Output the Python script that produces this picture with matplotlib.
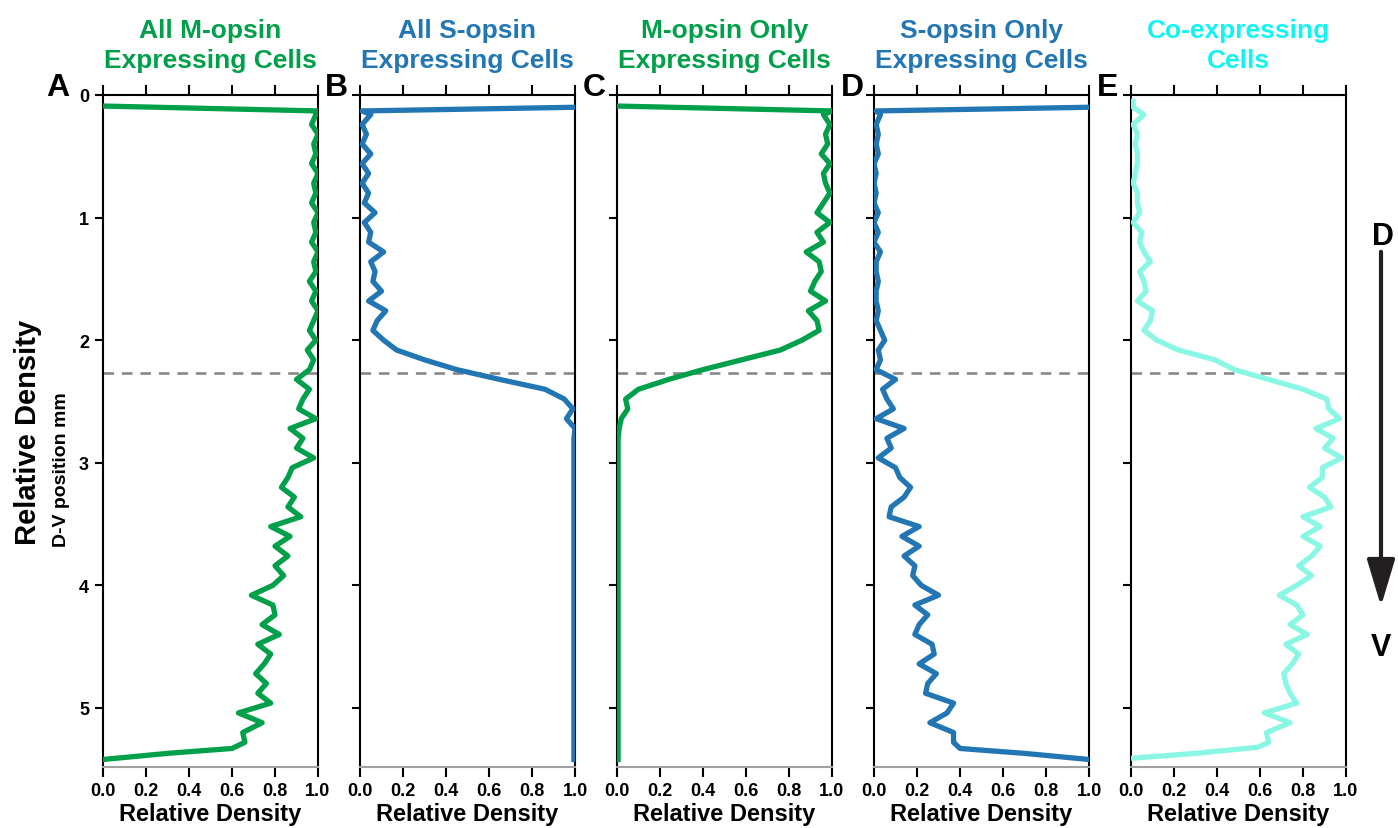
import numpy as np
import matplotlib
matplotlib.use("Agg")
import matplotlib.pyplot as plt
from matplotlib.patches import FancyArrowPatch, ArrowStyle

plt.rcParams['font.family'] = ['Liberation Sans', 'DejaVu Sans']
plt.rcParams['font.weight'] = 'bold'

# D-V position (mm) of the density bins
depth = [0.16, 0.24, 0.32, 0.40, 0.48, 0.56, 0.64, 0.72, 0.80, 0.88,
         0.96, 1.04, 1.12, 1.20, 1.28, 1.36, 1.44, 1.52, 1.60, 1.68,
         1.76, 1.84, 1.92, 2.00, 2.08, 2.16, 2.24, 2.32, 2.40, 2.48,
         2.56, 2.64, 2.72, 2.80, 2.88, 2.96, 3.04, 3.12, 3.20, 3.28,
         3.36, 3.44, 3.52, 3.60, 3.68, 3.76, 3.84, 3.92, 4.00, 4.08,
         4.16, 4.24, 4.32, 4.40, 4.48, 4.56, 4.64, 4.72, 4.80, 4.88,
         4.96, 5.04, 5.12, 5.20, 5.28]

all_m = [0.99, 0.97, 1.00, 0.98, 0.99, 0.97, 1.00, 0.98, 0.99, 0.97,
         1.00, 0.98, 0.99, 0.97, 1.00, 0.98, 0.99, 0.96, 0.99, 0.97,
         1.00, 0.98, 0.96, 0.99, 0.95, 0.98, 0.96, 0.90, 0.96, 0.93,
         0.91, 0.99, 0.87, 0.93, 0.90, 0.98, 0.88, 0.86, 0.83, 0.89,
         0.86, 0.92, 0.78, 0.87, 0.80, 0.86, 0.80, 0.84, 0.79, 0.69,
         0.79, 0.80, 0.74, 0.82, 0.72, 0.78, 0.75, 0.71, 0.76, 0.72,
         0.78, 0.63, 0.74, 0.65, 0.66]

all_s = [0.05, 0.01, 0.03, 0.01, 0.05, 0.01, 0.04, 0.01, 0.04, 0.02,
         0.07, 0.02, 0.05, 0.04, 0.11, 0.05, 0.07, 0.06, 0.10, 0.04,
         0.12, 0.08, 0.06, 0.11, 0.17, 0.30, 0.45, 0.65, 0.86, 0.95,
         0.99, 0.96, 1.00, 0.995, 0.995, 0.995, 0.995, 0.995, 0.995, 0.995,
         0.995, 0.995, 0.995, 0.995, 0.995, 0.995, 0.995, 0.995, 0.995, 0.995,
         0.995, 0.995, 0.995, 0.995, 0.995, 0.995, 0.995, 0.995, 0.995, 0.995,
         0.995, 0.995, 0.995, 0.995, 0.995]

m_only = [0.96, 0.99, 0.97, 0.98, 0.95, 0.99, 0.96, 0.97, 0.99, 0.96,
          0.93, 0.99, 0.93, 0.96, 0.88, 0.94, 0.95, 0.92, 0.90, 0.97,
          0.89, 0.93, 0.94, 0.86, 0.76, 0.58, 0.40, 0.24, 0.10, 0.04,
          0.05, 0.02, 0.01, 0.005, 0.005, 0.005, 0.005, 0.005, 0.005, 0.005,
          0.005, 0.005, 0.005, 0.005, 0.005, 0.005, 0.005, 0.005, 0.005, 0.005,
          0.005, 0.005, 0.005, 0.005, 0.005, 0.005, 0.005, 0.005, 0.005, 0.005,
          0.005, 0.005, 0.005, 0.005, 0.005]

s_only = [0.03, 0.01, 0.02, 0.01, 0.02, 0.00, 0.01, 0.00, 0.01, 0.00,
          0.02, 0.00, 0.02, 0.00, 0.03, 0.01, 0.01, 0.02, 0.01, 0.01,
          0.02, 0.01, 0.03, 0.05, 0.02, 0.03, 0.01, 0.10, 0.04, 0.06,
          0.09, 0.01, 0.14, 0.06, 0.08, 0.02, 0.10, 0.12, 0.17, 0.14,
          0.08, 0.07, 0.21, 0.13, 0.21, 0.14, 0.19, 0.18, 0.22, 0.30,
          0.19, 0.25, 0.21, 0.19, 0.27, 0.28, 0.21, 0.29, 0.25, 0.24,
          0.37, 0.34, 0.26, 0.37, 0.37]

co_exp = [0.06, 0.01, 0.03, 0.02, 0.03, 0.03, 0.02, 0.01, 0.03, 0.03,
          0.04, 0.01, 0.05, 0.04, 0.06, 0.09, 0.04, 0.06, 0.07, 0.03,
          0.10, 0.09, 0.06, 0.12, 0.22, 0.39, 0.48, 0.64, 0.80, 0.91,
          0.92, 0.97, 0.86, 0.94, 0.90, 0.98, 0.89, 0.89, 0.83, 0.90,
          0.93, 0.80, 0.88, 0.80, 0.88, 0.84, 0.78, 0.84, 0.77, 0.69,
          0.77, 0.80, 0.74, 0.82, 0.72, 0.78, 0.75, 0.71, 0.72, 0.74,
          0.77, 0.62, 0.74, 0.63, 0.64]

# end bins (top edge / bottom edge of the retina)
top_depth = [[0.09, 0.13], [0.10, 0.13], [0.09, 0.13], [0.10, 0.13], [0.05, 0.10]]
top_vals = [[0.0, 1.0], [1.0, 0.01], [0.0, 1.0], [1.0, 0.01], [0.01, 0.01]]
bot_depth = [[5.33, 5.37, 5.42], [5.42], [5.42], [5.33, 5.37, 5.42], [5.32, 5.37, 5.41]]
bot_vals = [[0.60, 0.30, 0.0], [0.995], [0.005], [0.40, 0.70, 1.0], [0.59, 0.30, 0.0]]

series = [all_m, all_s, m_only, s_only, co_exp]
titles = ["All M-opsin\nExpressing Cells", "All S-opsin\nExpressing Cells",
          "M-opsin Only\nExpressing Cells", "S-opsin Only\nExpressing Cells",
          "Co-expressing\nCells"]
letters = ["A", "B", "C", "D", "E"]
boundary = 2.27

green = "#00A04A"
blue = "#2176B3"
line_cols = [green, blue, green, blue, "#8AF7E4"]
title_cols = [green, blue, green, blue, "#12F4F4"]

W, H = 1398, 829
fig = plt.figure(figsize=(W / 100, H / 100), dpi=100)

lefts = [103, 360, 617, 874, 1131]
pw = 215
top_px, bot_px = 96, 768
ymax = (bot_px - top_px) / 122.6

for i in range(5):
    ax = fig.add_axes([lefts[i] / W, 1 - bot_px / H, pw / W, (bot_px - top_px) / H])
    y = top_depth[i] + depth + bot_depth[i]
    x = top_vals[i] + series[i] + bot_vals[i]
    ax.plot(x, y, color=line_cols[i], lw=3.8, solid_joinstyle='round', zorder=3)
    ax.axhline(boundary, color="#888888", lw=1.9, ls=(0, (4, 3)), zorder=2)
    ax.set_xlim(0, 1)
    ax.set_ylim(ymax, 0)
    ax.set_xticks([0, 0.2, 0.4, 0.6, 0.8, 1.0])
    ax.set_xticklabels(["0.0", "0.2", "0.4", "0.6", "0.8", "1.0"])
    ax.set_yticks([0, 1, 2, 3, 4, 5])
    ax.tick_params(axis='x', which='both', top=True, bottom=True, direction='out',
                   length=7, width=1.5, labelsize=13, pad=4, color='black')
    ax.tick_params(axis='y', left=True, right=False, direction='out',
                   length=6, width=1.5, labelsize=13, pad=4)
    if i > 0:
        ax.set_yticklabels([])
    for lab in ax.get_xticklabels() + ax.get_yticklabels():
        lab.set_fontweight('bold')
    for s in ['left', 'right', 'top']:
        ax.spines[s].set_linewidth(1.5)
        ax.spines[s].set_color('black')
    ax.spines['bottom'].set_color('#A0A0A0')
    ax.spines['bottom'].set_linewidth(1.5)
    ax.set_xlabel("Relative Density", fontsize=17, fontweight='bold', labelpad=2)

    cx = (lefts[i] + pw / 2) / W
    fig.text(cx, 1 - 46 / H, titles[i], ha='center', va='center', fontsize=19,
             fontweight='bold', color=title_cols[i], linespacing=1.35)

letter_x = [58, 336, 594, 852, 1108]
for lx, l in zip(letter_x, letters):
    fig.text(lx / W, 1 - 88 / H, l, ha='center', va='center', fontsize=23, fontweight='bold')

fig.text(28 / W, 1 - 432 / H, "Relative Density", rotation=90, ha='center', va='center',
         fontsize=21, fontweight='bold')
fig.text(62 / W, 1 - 470 / H, "D-V position mm", rotation=90, ha='center', va='center',
         fontsize=14, fontweight='bold')

# dorsal -> ventral arrow
fig.text(1383 / W, 1 - 237 / H, "D", ha='center', va='center', fontsize=22, fontweight='bold')
fig.text(1381 / W, 1 - 648 / H, "V", ha='center', va='center', fontsize=22, fontweight='bold')
arr = FancyArrowPatch((1381 / W, 1 - 250 / H), (1381 / W, 1 - 610 / H),
                      transform=fig.transFigure,
                      arrowstyle=ArrowStyle('-|>', head_length=1.6, head_width=0.48),
                      mutation_scale=18, lw=3, color='#231F20')
fig.add_artist(arr)

fig.savefig("out.png", dpi=100)
